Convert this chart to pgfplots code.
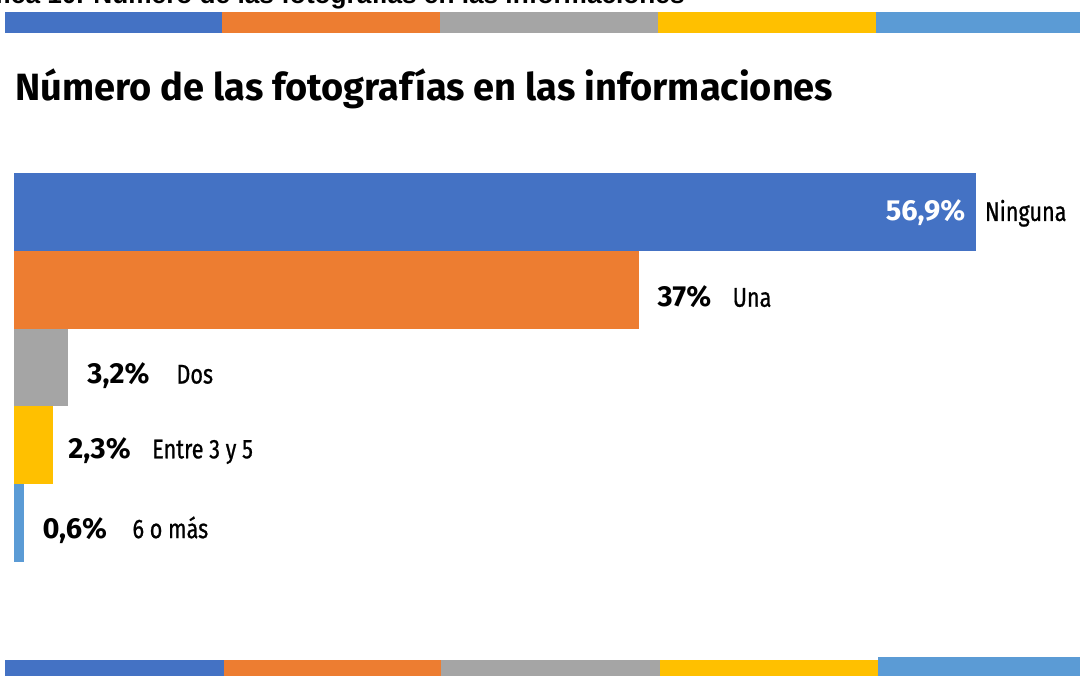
\documentclass[border=0pt]{standalone}
\usepackage{fontspec}
\usepackage{pgfplots}
\pgfplotsset{compat=1.18}
\setmainfont{Fira Sans}
\newfontfamily\arialf{Liberation Sans}
\newfontfamily\condf[FakeStretch=0.8,FakeBold=0.8]{Fira Sans}
\definecolor{cA}{HTML}{4472C4}
\definecolor{cB}{HTML}{ED7D31}
\definecolor{cC}{HTML}{A5A5A5}
\definecolor{cD}{HTML}{FFC000}
\definecolor{cE}{HTML}{5B9BD5}
\newcommand{\valf}{\fontsize{14.5}{16}\selectfont\bfseries}
\newcommand{\catf}{\condf\fontsize{13.5}{15}\selectfont}
\begin{document}
\begin{tikzpicture}[x=0.5pt,y=-0.5pt]
\useasboundingbox (0,0) rectangle (1080,675);
% cut-off heading
\node[anchor=base east, inner sep=0, font=\arialf\bfseries\fontsize{13.1}{15}\selectfont] at (685,3.5) {Gráfica 10. Número de las fotografías en las informaciones};
% top strip
\fill[cA] (5,12) rectangle (222,33);
\fill[cB] (222,12) rectangle (440,33);
\fill[cC] (440,12) rectangle (658,33);
\fill[cD] (658,12) rectangle (876,33);
\fill[cE] (876,12) rectangle (1085,33);
% bottom strip
\fill[cA] (5,660) rectangle (224,680);
\fill[cB] (224,660) rectangle (441,680);
\fill[cC] (441,660) rectangle (660,680);
\fill[cD] (660,660) rectangle (878,680);
\fill[cE] (878,657) rectangle (1085,680);
% title
\node[anchor=base west, inner sep=0, font=\bfseries\fontsize{19}{21}\selectfont] at (15,100) {Número de las fotografías en las informaciones};
\begin{axis}[at={(7pt,-86.5pt)}, anchor=north west, scale only axis,
  width=533pt, height=194.5pt, xmin=0, xmax=63.08, ymin=-0.5, ymax=4.5,
  y dir=reverse, hide axis, xbar, bar width=1, bar shift=0pt, clip=false]
\addplot[fill=cA, draw=none] coordinates {(56.9,0)};
\addplot[fill=cB, draw=none] coordinates {(37,1)};
\addplot[fill=cC, draw=none] coordinates {(3.2,2)};
\addplot[fill=cD, draw=none] coordinates {(2.3,3)};
\addplot[fill=cE, draw=none] coordinates {(0.6,4)};
\node[anchor=base east, inner sep=0, text=white, font=\valf, xshift=-5pt, yshift=-4.5pt] at (axis cs:56.9,0) {56,9\%};
\node[anchor=base west, inner sep=0, font=\catf, xshift=4.5pt, yshift=-4.5pt] at (axis cs:56.9,0) {Ninguna};
\node[anchor=base west, inner sep=0, font=\valf, xshift=9pt, yshift=-8.5pt] at (axis cs:37,1) {37\%};
\node[anchor=base west, inner sep=0, font=\catf, xshift=46.5pt, yshift=-8.5pt] at (axis cs:37,1) {Una};
\node[anchor=base west, inner sep=0, font=\valf, xshift=9.5pt, yshift=-8pt] at (axis cs:3.2,2) {3,2\%};
\node[anchor=base west, inner sep=0, font=\catf, xshift=54pt, yshift=-8pt] at (axis cs:3.2,2) {Dos};
\node[anchor=base west, inner sep=0, font=\valf, xshift=7.5pt, yshift=-6.5pt] at (axis cs:2.3,3) {2,3\%};
\node[anchor=base west, inner sep=0, font=\catf, xshift=49.5pt, yshift=-6.5pt] at (axis cs:2.3,3) {Entre 3 y 5};
\node[anchor=base west, inner sep=0, font=\valf, xshift=9pt, yshift=-7.5pt] at (axis cs:0.6,4) {0,6\%};
\node[anchor=base west, inner sep=0, font=\catf, xshift=54pt, yshift=-7.5pt] at (axis cs:0.6,4) {6 o más};
\end{axis}
\end{tikzpicture}
\end{document}
